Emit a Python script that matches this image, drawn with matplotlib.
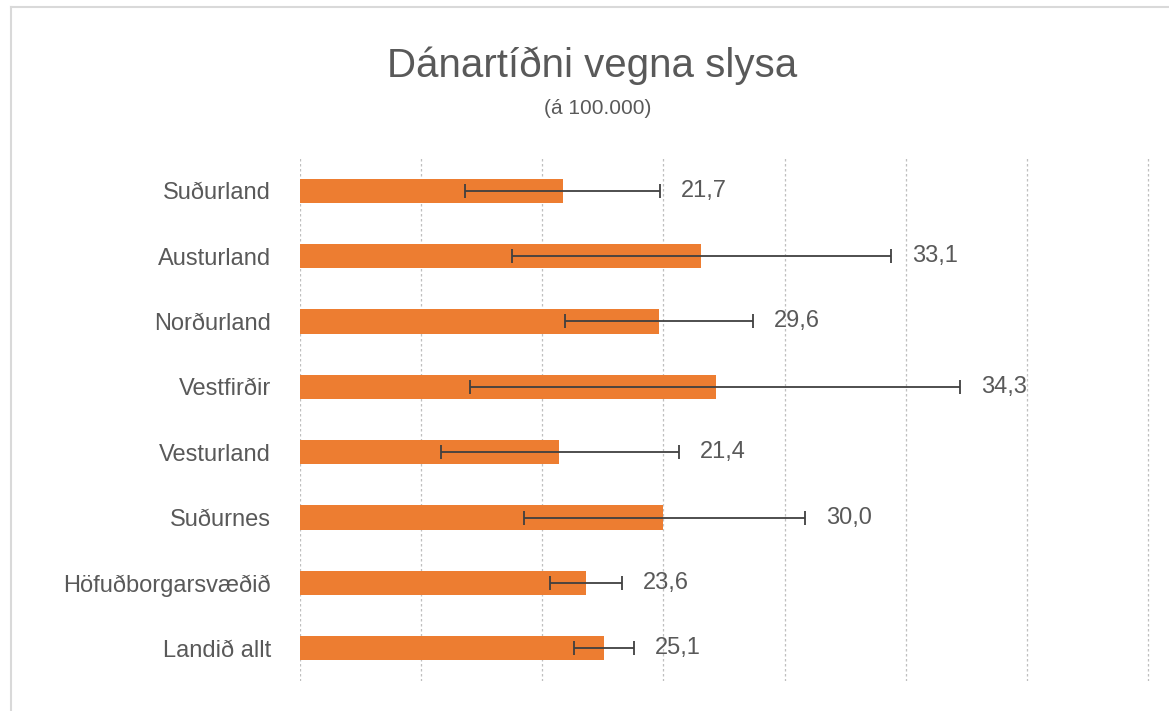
import matplotlib
matplotlib.use("Agg")
import matplotlib.pyplot as plt
from matplotlib.lines import Line2D

categories = ["Suðurland", "Austurland", "Norðurland", "Vestfirðir",
              "Vesturland", "Suðurnes", "Höfuðborgarsvæðið", "Landið allt"]
values = [21.7, 33.1, 29.6, 34.3, 21.4, 30.0, 23.6, 25.1]
err_low = [13.6, 17.5, 21.9, 14.0, 11.6, 18.5, 20.6, 22.6]
err_high = [29.7, 48.8, 37.4, 54.5, 31.3, 41.7, 26.6, 27.6]
value_labels = ["21,7", "33,1", "29,6", "34,3", "21,4", "30,0", "23,6", "25,1"]

W, H = 1169, 711
fig = plt.figure(figsize=(W / 100, H / 100), dpi=100)
FONT = ["Liberation Sans Narrow", "Liberation Sans", "DejaVu Sans"]
TXT = "#595959"

# outer chart frame (only top and left edges visible)
fig.lines.append(Line2D([11 / W, 11 / W], [0, 1 - 7 / H], transform=fig.transFigure,
                        color="#D9D9D9", linewidth=1.5))
fig.lines.append(Line2D([11 / W, 1], [1 - 7 / H, 1 - 7 / H], transform=fig.transFigure,
                        color="#D9D9D9", linewidth=1.5))

left, right, top, bottom = 300, 1152, 158, 681
ax = fig.add_axes([left / W, 1 - bottom / H, (right - left) / W, (bottom - top) / H])

n = len(categories)
ypos = list(range(n))[::-1]
lo = [v - l for v, l in zip(values, err_low)]
hi = [h - v for v, h in zip(values, err_high)]
ax.barh(ypos, values, height=0.37, color="#ED7D31", zorder=2)
ax.errorbar(values, ypos, xerr=[lo, hi], fmt="none", ecolor="#404040",
            elinewidth=1.3, capsize=5, capthick=1.3, zorder=3)

for y, h, lab in zip(ypos, err_high, value_labels):
    ax.text(h + 1.7, y, lab, va="center", ha="left", fontsize=17,
            color=TXT, family=FONT)

ax.set_xlim(0, 70 * (right - left) / 848)
ax.set_ylim(-0.5, n - 0.5)
ax.set_xticks(range(0, 71, 10))
ax.set_xticklabels([])
ax.tick_params(axis="x", length=0)
ax.tick_params(axis="y", length=0, pad=21)
ax.set_yticks(ypos)
ax.set_yticklabels(categories, fontsize=17, color=TXT, family=FONT)
ax.grid(axis="x", color="#BFBFBF", linestyle=(0, (2, 2)), linewidth=0.9, zorder=0)
for s in ax.spines.values():
    s.set_visible(False)

fig.text(592 / W, 1 - 77 / H, "Dánartíðni vegna slysa", ha="center", va="baseline",
         fontsize=29, color=TXT, family=FONT)
fig.text(598 / W, 1 - 108 / H, "(á 100.000)", ha="center", va="center",
         fontsize=15, color=TXT, family=FONT)

fig.savefig("out.png", dpi=100, facecolor="white")
